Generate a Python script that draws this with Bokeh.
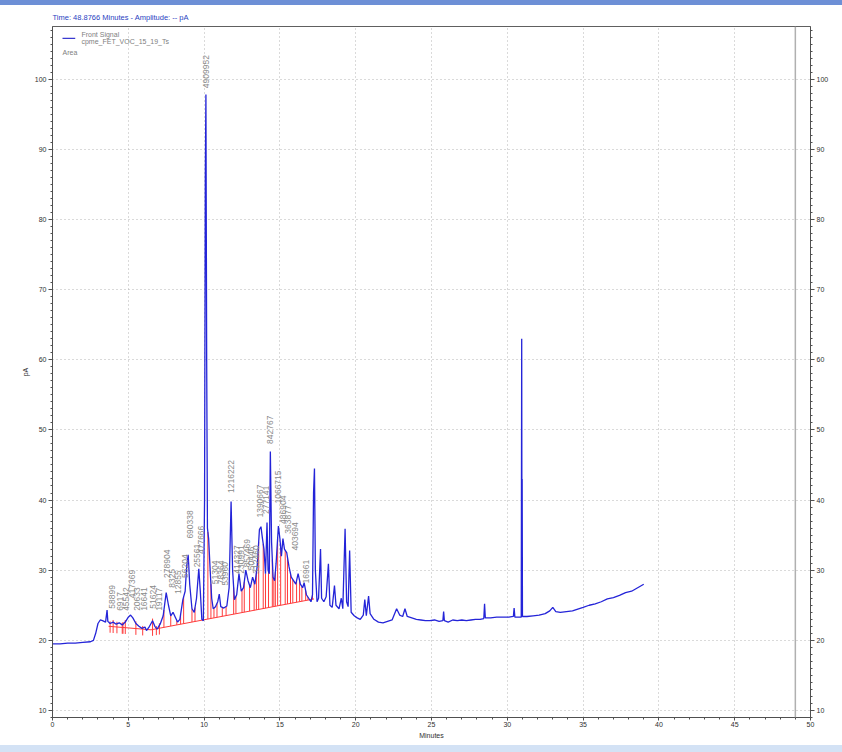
import numpy as np
from bokeh.plotting import figure
from bokeh.layouts import column
from bokeh.models import Range1d, LinearAxis, FixedTicker, Span, Label, Div
from bokeh.embed import file_html
from bokeh.resources import INLINE
from bokeh.core.properties import value

# ---- chromatogram trace (minutes, pA) ----
time_min = [0.0, 0.5, 1.0, 1.5, 2.0, 2.5, 2.7, 2.85, 3.0, 3.15, 3.3, 3.5, 3.6, 3.65, 3.8,
            4.0, 4.2, 4.4, 4.6, 4.8, 5.0, 5.15, 5.3, 5.5, 5.7, 5.9, 6.1, 6.2, 6.4, 6.6,
            6.75, 6.9, 7.1, 7.3, 7.5, 7.65, 7.8, 7.95, 8.1, 8.25, 8.4, 8.6, 8.75, 8.85,
            8.95, 9.05, 9.2, 9.35, 9.5, 9.65, 9.75, 9.85, 9.95, 10.03, 10.08, 10.12, 10.17,
            10.22, 10.3, 10.4, 10.5, 10.6, 10.75, 10.9, 11.0, 11.1, 11.3, 11.5, 11.65,
            11.78, 11.88, 12.0, 12.15, 12.3, 12.45, 12.6, 12.75, 12.9, 13.05, 13.2, 13.35,
            13.5, 13.65, 13.75, 13.85, 13.95, 14.05, 14.15, 14.22, 14.3, 14.37, 14.45,
            14.55, 14.65, 14.75, 14.9, 15.0, 15.1, 15.2, 15.3, 15.45, 15.6, 15.75, 15.9,
            16.05, 16.2, 16.35, 16.5, 16.6, 16.75, 16.9, 17.05, 17.15, 17.22, 17.28, 17.34,
            17.45, 17.55, 17.68, 17.75, 17.9, 18.05, 18.2, 18.3, 18.45, 18.6, 18.7, 18.9,
            19.05, 19.15, 19.3, 19.4, 19.5, 19.6, 19.7, 19.9, 20.1, 20.3, 20.5, 20.6, 20.7,
            20.85, 20.95, 21.2, 21.5, 21.8, 22.1, 22.4, 22.7, 22.9, 23.1, 23.25, 23.4, 23.7,
            24.0, 24.3, 24.6, 24.9, 25.2, 25.5, 25.75, 25.8, 25.85, 26.1, 26.4, 26.7, 27.0,
            27.3, 27.6, 27.9, 28.2, 28.45, 28.5, 28.55, 28.9, 29.3, 29.7, 30.1, 30.4, 30.45,
            30.5, 30.92, 30.95, 30.97, 30.98, 31.0, 31.3, 31.7, 32.1, 32.5, 32.8, 33.0, 33.2,
            33.5, 33.9, 34.3, 34.7, 35.0, 35.4, 35.8, 36.2, 36.6, 37.0, 37.4, 37.8, 38.2,
            38.6, 39.0]
signal_pa = [19.5, 19.5, 19.6, 19.6, 19.7, 19.8, 20.0, 21.0, 22.4, 22.9, 22.8, 22.6, 24.3, 22.7, 22.4,
             22.6, 22.3, 22.5, 22.2, 22.6, 23.3, 23.6, 23.2, 22.4, 22.0, 21.7, 21.9, 21.4, 22.0, 22.8,
             22.0, 21.6, 22.3, 23.5, 26.8, 25.0, 23.5, 24.0, 23.3, 22.6, 23.0, 25.8, 27.0, 30.5,
             32.2, 28.0, 24.5, 24.0, 26.0, 30.2, 27.0, 23.0, 22.8, 40.0, 86.0, 97.8, 60.0,
             36.0, 34.5, 30.0, 26.0, 24.5, 24.8, 25.5, 26.6, 24.8, 24.6, 24.9, 27.5,
             39.8, 30.0, 25.8, 26.5, 29.5, 27.0, 27.5, 30.0, 28.5, 27.5, 29.0, 28.0,
             30.5, 35.8, 36.2, 34.5, 33.0, 29.5, 36.8, 30.0, 29.5, 46.9, 34.0,
             29.0, 28.5, 31.0, 36.3, 34.5, 32.0, 34.5, 33.0, 32.5, 30.5, 29.0, 28.5,
             28.0, 29.5, 28.0, 27.5, 28.2, 26.5, 26.0, 25.5, 26.5, 41.0, 44.5, 30.0,
             25.5, 26.0, 33.0, 26.0, 25.5, 26.2, 30.9, 25.0, 24.7, 27.8, 25.0, 24.5,
             26.0, 24.5, 35.9, 25.5, 24.8, 32.8, 24.0, 23.5, 23.2, 23.0, 23.6, 25.8, 23.5,
             26.3, 23.8, 23.0, 22.6, 22.5, 22.7, 22.9, 24.5, 23.6, 23.4, 24.5, 23.4, 23.2,
             23.0, 22.9, 22.8, 22.8, 22.9, 22.7, 22.8, 24.1, 22.8, 22.6, 22.9, 22.8, 22.9,
             22.8, 22.9, 23.0, 23.0, 23.1, 25.2, 23.2, 23.2, 23.3, 23.3, 23.3, 23.4, 24.6,
             23.3, 23.3, 63.0, 23.5, 43.0, 23.4, 23.4, 23.5, 23.6, 23.8, 24.2, 24.7, 24.1,
             24.0, 24.1, 24.2, 24.5, 24.7, 25.0, 25.2, 25.5, 25.9, 26.1, 26.4, 26.8, 27.0,
             27.5, 28.0]

# ---- integration baseline and peak drop lines ----
baseline_time = [3.7, 6.5, 17.25]
baseline_pa = [22.0, 21.5, 25.9]
early_tick_time = [3.8, 4.0, 4.25, 4.6, 4.65, 4.8, 5.5, 5.95, 6.6, 6.85, 7.05]
drop_time = [7.35, 7.8, 8.2, 8.45, 8.65, 9.2, 9.4, 9.88, 10.25, 10.45, 10.65, 10.85, 11.2,
             11.45, 11.95, 12.1, 12.5, 12.65, 13.0, 13.3, 13.45, 13.6, 13.9, 14.05, 14.25,
             14.5, 14.6, 14.7, 14.85, 15.05, 15.35, 15.5, 15.7, 15.85, 16.1, 16.3, 16.45,
             16.7, 16.85, 17.0, 17.15]

# ---- peak area labels ----
label_time = [3.95, 4.45, 4.85, 5.25, 5.6, 6.05, 6.65, 7.05, 7.55, 7.9, 8.25, 8.75, 9.05,
              9.5, 9.8, 10.12, 10.75, 11.1, 11.4, 11.8, 12.2, 12.45, 12.8, 13.1, 13.4,
              13.7, 14.1, 14.37, 14.9, 15.2, 15.55, 16.0, 16.75]
label_pa = [24.5, 24.2, 24.2, 26.0, 24.2, 24.2, 24.5, 24.2, 28.9, 27.5, 26.6, 28.9, 34.5,
            30.4, 32.3, 98.7, 28.0, 28.0, 27.8, 41.0, 29.5, 29.5, 30.4, 30.0, 29.5,
            37.5, 38.0, 48.0, 39.5, 36.6, 35.2, 32.8, 28.1]
label_text = ["58899", "6917", "45542", "417369", "20633", "16641", "51624", "19117",
              "278904", "8325", "12855", "56204", "690338", "25561", "477666", "4909952",
              "51304", "78364", "53960", "1216222", "414327", "230991", "857469", "50446",
              "312460", "1390667", "277141", "842767", "1066715", "486904", "363877",
              "403694", "16961"]

x_ticks = list(range(0, 51, 5))
y_ticks = list(range(10, 101, 10))
legend_lines = ["Front Signal", "cpme_FET_VOC_15_19_Ts", "Area"]

FONT = "Liberation Sans"

p = figure(width=842, height=740, x_range=Range1d(0, 50), y_range=Range1d(9.0, 107.5),
           output_backend="svg", toolbar_location=None,
           min_border_left=52, min_border_right=32, min_border_top=20, min_border_bottom=28)

p.title.text = "Time: 48.8766 Minutes - Amplitude: -- pA"
p.title.text_font = FONT
p.title.text_font_size = "7.5px"
p.title.text_font_style = "normal"
p.title.text_color = "#2a3fbf"
p.title.standoff = 10
p.title.align = "left"

p.outline_line_color = "#606060"
p.background_fill_color = "white"
p.border_fill_color = "white"

# grid
p.xgrid.ticker = FixedTicker(ticks=x_ticks[1:-1])
p.ygrid.ticker = FixedTicker(ticks=y_ticks)
for g in (p.xgrid, p.ygrid):
    g.grid_line_color = "#b4b4b4"
    g.grid_line_dash = "1 3"
    g.grid_line_width = 1

# axes
p.xaxis.ticker = FixedTicker(ticks=x_ticks, minor_ticks=list(range(0, 51)))
p.yaxis.ticker = FixedTicker(ticks=y_ticks, minor_ticks=list(range(9, 108)))
p.xaxis.axis_label = "Minutes"
p.yaxis.axis_label = "pA"
right = LinearAxis(ticker=FixedTicker(ticks=y_ticks, minor_ticks=list(range(9, 108))))
p.add_layout(right, "right")

for ax in p.xaxis + p.yaxis + [right]:
    ax.axis_line_color = "#505050"
    ax.major_tick_line_color = "#505050"
    ax.minor_tick_line_color = "#505050"
    ax.major_tick_out = 4
    ax.major_tick_in = 0
    ax.minor_tick_out = 2
    ax.minor_tick_in = 0
    ax.major_label_text_font = FONT
    ax.major_label_text_font_size = "7px"
    ax.major_label_text_color = "#303030"
    ax.major_label_standoff = 2
    ax.axis_label_text_font = FONT
    ax.axis_label_text_font_size = "7px"
    ax.axis_label_text_font_style = "normal"
    ax.axis_label_text_color = "#303030"
    ax.axis_label_standoff = 3
p.xaxis.major_tick_out = 3
p.xaxis.major_label_standoff = 1
p.xaxis.axis_label_standoff = 2

# right-hand marker line
p.add_layout(Span(location=49.0, dimension="height", line_color="#b0b0b0", line_width=1.5))

# integration marks (red)
bt = np.array(baseline_time)
bp = np.array(baseline_pa)
tt = np.array(time_min)
sp = np.array(signal_pa)
p.line(baseline_time, baseline_pa, line_color="#ff3b3b", line_width=1)
et = np.array(early_tick_time)
p.segment(x0=et, y0=np.interp(et, bt, bp) - 0.9, x1=et, y1=np.interp(et, tt, sp) + 0.3,
          line_color="#ff3b3b", line_width=1)
dt = np.array(drop_time)
p.segment(x0=dt, y0=np.interp(dt, bt, bp), x1=dt, y1=np.interp(dt, tt, sp),
          line_color="#ff3b3b", line_width=1)

# signal trace
p.line(time_min, signal_pa, line_color="#2424d8", line_width=1.3)

# peak labels
p.text(x=label_time, y=label_pa, text=label_text, angle=np.pi / 2,
       text_align="left", text_baseline="middle", text_font=value(FONT),
       text_font_size="8.5px", text_color="#8a8a8a")

# legend (custom)
p.line([0.66, 1.5], [105.8, 105.8], line_color="#3a3ad0", line_width=1.2)
p.add_layout(Label(x=1.91, y=106.4, text=legend_lines[0], text_font=FONT, text_font_size="7px",
                   text_color="#808080", text_baseline="middle"))
p.add_layout(Label(x=1.91, y=105.3, text=legend_lines[1], text_font=FONT, text_font_size="7px",
                   text_color="#808080", text_baseline="middle"))
p.add_layout(Label(x=0.66, y=103.8, text=legend_lines[2], text_font=FONT, text_font_size="7px",
                   text_color="#808080", text_baseline="middle"))

# window chrome: top bar and status bar
top_bar = Div(text="", width=842, height=5, margin=0,
              styles={"background-color": "#6d8fd6"})
status_bar = Div(text="", width=842, height=7, margin=0,
                 styles={"background-color": "#d3e2f5"})

layout = column(top_bar, p, status_bar, spacing=0)

open("out.html", "w").write(file_html(layout, INLINE))
